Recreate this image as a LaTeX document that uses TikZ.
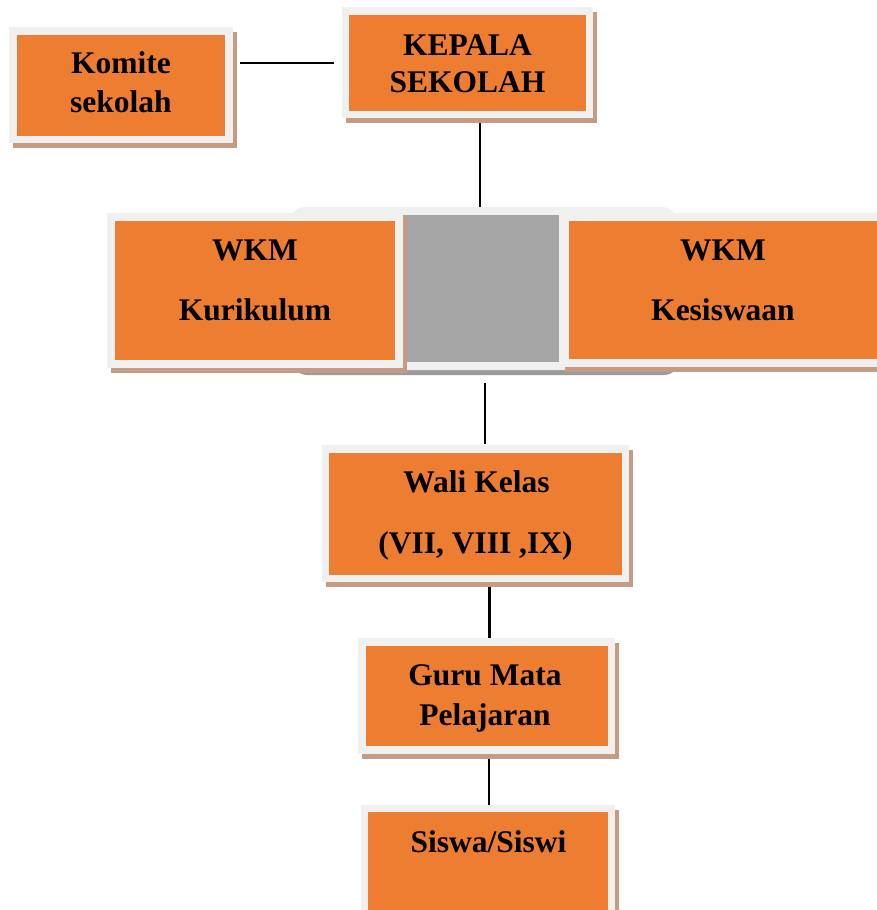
\documentclass[tikz,border=0pt]{standalone}
\usepackage{fontspec}
\setmainfont{Liberation Serif}
\usetikzlibrary{backgrounds}
\definecolor{orng}{HTML}{ED7D31}
\definecolor{framegray}{HTML}{F0F0F0}
\definecolor{shadowtan}{HTML}{C59B82}
\definecolor{midgray}{HTML}{A5A5A5}
\definecolor{grpshadow}{HTML}{9B9B9B}
\begin{document}
\begin{tikzpicture}[x=1pt,y=-1pt,
  orgbox/.style={rectangle, draw=framegray, fill=orng, line width=7.5pt, inner sep=0pt, outer sep=0pt,
    preaction={fill=shadowtan, draw=shadowtan, transform canvas={shift={(4,5)}}}},
  grpbox/.style={rectangle, rounded corners=15pt, fill=framegray, inner sep=0pt, outer sep=0pt,
    preaction={fill=grpshadow, transform canvas={shift={(2,5)}}}},
  midbox/.style={rectangle, fill=midgray, inner sep=0pt, outer sep=0pt},
  txt/.style={font=\bfseries\fontsize{31.5}{38}\selectfont, inner sep=0pt, anchor=base},
  conn/.style={draw=black, line width=1.6pt},
]
\useasboundingbox (0,0) rectangle (877,910);
\begin{scope}
\clip (0,0) rectangle (877,910);
% group background
\node[grpbox, minimum width=387pt, minimum height=163pt] (grp) at (483.5,288.5) {};
\node[midbox, minimum width=156pt, minimum height=147pt] (mid) at (481,288.5) {};
% boxes
\node[orgbox, minimum width=216pt, minimum height=108.5pt] (komite) at (121,85.25) {};
\node[orgbox, minimum width=244pt, minimum height=103.5pt] (kepala) at (467.5,62.75) {};
\node[orgbox, minimum width=288pt, minimum height=147pt] (wkmk) at (255,290.5) {};
\node[orgbox, minimum width=319pt, minimum height=146pt] (wkms) at (724.5,290) {};
\node[orgbox, minimum width=300pt, minimum height=129.5pt] (wali) at (475.5,513.75) {};
\node[orgbox, minimum width=249.5pt, minimum height=108pt] (guru) at (486.75,696) {};
\node[orgbox, minimum width=247pt, minimum height=106.5pt] (siswa) at (488,861.75) {};
% texts
\node[txt] (t1) at (121,73) {Komite};
\node[txt] (t2) at (121,112) {sekolah};
\node[txt] (t3) at (467.5,55) {KEPALA};
\node[txt] (t4) at (467.5,92) {SEKOLAH};
\node[txt] (t5) at (255,260) {WKM};
\node[txt] (t6) at (255,320) {Kurikulum};
\node[txt] (t7) at (723,260) {WKM};
\node[txt] (t8) at (723,320) {Kesiswaan};
\node[txt] (t9) at (476.5,492) {Wali Kelas};
\node[txt] (t10) at (475.5,553) {(VII, VIII ,IX)};
\node[txt] (t11) at (485,685) {Guru Mata};
\node[txt] (t12) at (485,725) {Pelajaran};
\node[txt] (t13) at (488.5,852) {Siswa/Siswi};
\end{scope}
\begin{pgfonlayer}{background}
\draw[conn, shorten <=11pt, shorten >=11.5pt] (kepala.west -| komite.east) -- (kepala.west);
\draw[conn, line width=1.4pt] ([xshift=12.5pt]kepala.south) -- ([xshift=12.5pt]kepala.south |- grp.north);
\draw[conn, line width=1.4pt, shorten <=13pt, shorten >=5pt] ([xshift=9.5pt]wali.north |- grp.south) -- ([xshift=9.5pt]wali.north);
\draw[conn, line width=3pt] ([xshift=13.5pt]wali.south) -- ([xshift=13.5pt]wali.south |- guru.north);
\draw[conn, line width=1.4pt] ([xshift=2.25pt]guru.south) -- ([xshift=2.25pt]guru.south |- siswa.north);
\end{pgfonlayer}
\end{tikzpicture}
\end{document}
